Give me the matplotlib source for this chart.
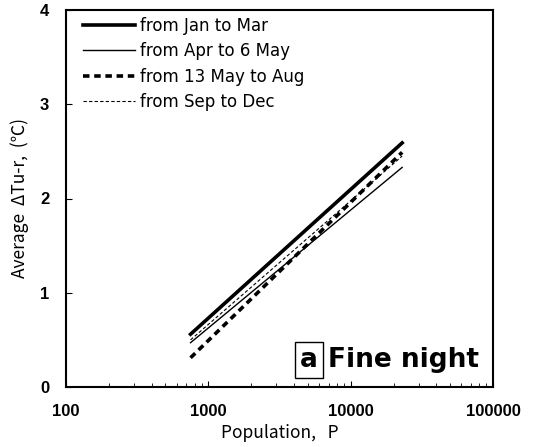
import matplotlib
matplotlib.use("Agg")
import matplotlib.pyplot as plt
import numpy as np

# Data: straight regression lines (semi-log)
population = [750, 23000]
jan_mar = [0.56, 2.59]
apr_may6 = [0.47, 2.33]
may13_aug = [0.31, 2.49]
sep_dec = [0.50, 2.45]
labels = ["from Jan to Mar", "from Apr to 6 May", "from 13 May to Aug", "from Sep to Dec"]
xticks = [100, 1000, 10000, 100000]
yticks = [0, 1, 2, 3, 4]

fig = plt.figure(figsize=(5.37, 4.47), dpi=100)
ax = fig.add_axes([66/537, 1-387/447, (493-66)/537, (387-10)/447])

ax.plot(population, jan_mar, color="black", lw=2.6, label=labels[0])
ax.plot(population, apr_may6, color="black", lw=1.0, label=labels[1])
ax.plot(population, may13_aug, color="black", lw=2.6, ls=(0, (1.8, 1.3)), label=labels[2])
ax.plot(population, sep_dec, color="black", lw=0.8, ls=(0, (3, 2)), label=labels[3])

ax.set_xscale("log")
ax.set_xlim(100, 100000)
ax.set_ylim(0, 4)
ax.set_xticks(xticks)
ax.set_xticklabels([str(v) for v in xticks])
ax.set_yticks(yticks)
ax.set_yticklabels([str(v) for v in yticks])
ax.tick_params(axis="both", direction="in", labelsize=12, length=4)
ax.tick_params(axis="x", which="minor", direction="in", length=3)
ax.tick_params(axis="x", pad=12)
ax.tick_params(axis="y", pad=12)
for lab in ax.get_xticklabels() + ax.get_yticklabels():
    lab.set_fontweight("bold")
    lab.set_family(["Liberation Sans Narrow", "Liberation Sans", "DejaVu Sans"])
for s in ax.spines.values():
    s.set_linewidth(1.5)

ax.set_xlabel("Population,   P", family=["Noto Sans CJK JP", "DejaVu Sans"], fontsize=12.5, labelpad=4)
ax.set_ylabel("Average  ΔTu-r,  (℃)", family=["Noto Sans CJK JP", "DejaVu Sans"], fontsize=12.5, labelpad=8)

leg = ax.legend(loc="upper left", frameon=False, fontsize=12, handlelength=3.1,
                handletextpad=0.3, labelspacing=0.45, borderaxespad=0.0,
                bbox_to_anchor=(0.025, 1.0))

ax.text(0.548, 0.053, "a", transform=ax.transAxes, fontsize=19, fontweight="heavy",
        ha="left", va="baseline",
        bbox=dict(boxstyle="square,pad=0.18", fc="white", ec="black", lw=1))
ax.text(0.614, 0.053, "Fine night", transform=ax.transAxes, fontsize=19, fontweight="heavy",
        ha="left", va="baseline")

fig.savefig("out.png", dpi=100)
